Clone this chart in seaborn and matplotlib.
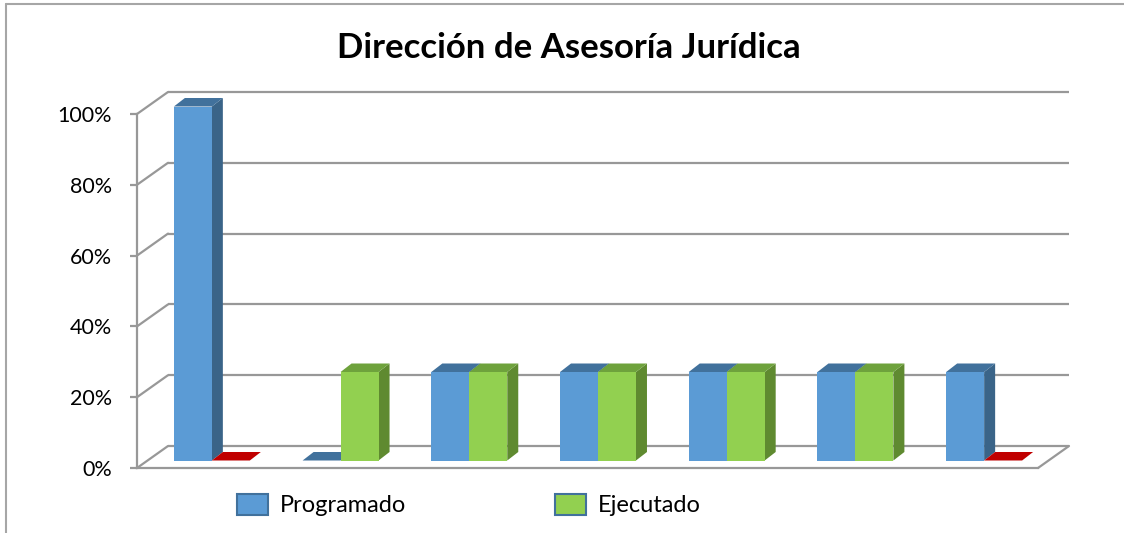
import pandas as pd
import seaborn as sns
import matplotlib.pyplot as plt
from matplotlib.patches import Polygon, Patch
from matplotlib.lines import Line2D
from matplotlib.ticker import PercentFormatter
from matplotlib.colors import to_hex

# datos
grupos = ['1', '2', '3', '4', '5', '6', '7']
programado = [1.00, 0.00, 0.25, 0.25, 0.25, 0.25, 0.25]
ejecutado = [0.00, 0.25, 0.25, 0.25, 0.25, 0.25, 0.00]
series = ['Programado', 'Ejecutado']
marcas_y = [0, 0.2, 0.4, 0.6, 0.8, 1.0]

df = pd.DataFrame({'grupo': grupos * 2,
                   'serie': [series[0]] * len(grupos) + [series[1]] * len(grupos),
                   'valor': programado + ejecutado})

sns.set_style('white')
plt.rcParams['font.family'] = ['Lato', 'DejaVu Sans']
plt.rcParams['text.color'] = 'black'

W, H = 1124, 533
fig = plt.figure(figsize=(W / 100, H / 100), dpi=100)
ax = fig.add_axes([137 / W, (H - 468) / H, 901 / W, 354 / H])

colores = {'Programado': '#5B9BD5', 'Ejecutado': '#92D050'}
lados = {'#5b9bd5': '#3A6488', '#92d050': '#5F8A30'}
tapas = {'#5b9bd5': '#41719C', '#92d050': '#6EA23C'}
rojo = '#C00000'
gris = '#989898'

sns.barplot(data=df, x='grupo', y='valor', hue='serie', hue_order=series,
            palette=colores, width=0.59, gap=0, saturation=1, legend=False,
            linewidth=0, ax=ax)
ax.set_xlim(-0.5, 6.5)
ax.set_ylim(0, 1)

# pixeles -> unidades de datos
bx = 7 / 901
by = 1 / 354
Dx, Dy = 31 * bx, 22 * by          # profundidad del piso
fx, fy = 10.5 * bx, 7.5 * by       # cara frontal de las barras
px, py = 11 * bx, 8.5 * by         # profundidad de cada barra

# paredes y rejilla
for v in marcas_y:
    ax.plot([-0.5 + Dx, 6.5 + Dx], [v + Dy, v + Dy], color=gris, lw=1.6,
            clip_on=False, zorder=1, solid_capstyle='butt')
    ax.plot([-0.5, -0.5 + Dx], [v, v + Dy], color=gris, lw=1.6,
            clip_on=False, zorder=1)
ax.plot([6.5, 6.5 + Dx], [0, Dy], color=gris, lw=1.6, clip_on=False, zorder=1)

barras = sorted(ax.patches, key=lambda p: p.get_x())
for k, p in enumerate(barras):
    c = to_hex(p.get_facecolor())
    x0, w, h = p.get_x() + fx, p.get_width(), p.get_height()
    y0 = fy
    p.set_x(x0)
    p.set_y(y0)
    z = 5 + k * 0.1
    p.set_zorder(z + 0.05)
    p.set_clip_on(False)
    tapa = tapas[c]
    if h == 0 and c == '#92d050':
        tapa = rojo
    if h > 0:
        ax.add_patch(Polygon([(x0 + w, y0), (x0 + w + px, y0 + py),
                              (x0 + w + px, y0 + h + py), (x0 + w, y0 + h)],
                             closed=True, facecolor=lados[c], lw=0,
                             zorder=z, clip_on=False))
    ax.add_patch(Polygon([(x0, y0 + h), (x0 + px, y0 + h + py),
                          (x0 + w + px, y0 + h + py), (x0 + w, y0 + h)],
                         closed=True, facecolor=tapa, lw=0,
                         zorder=z, clip_on=False))

for s in ['top', 'right']:
    ax.spines[s].set_visible(False)
for s in ['left', 'bottom']:
    ax.spines[s].set_color(gris)
    ax.spines[s].set_linewidth(1.6)
ax.set_xticks([])
ax.set_yticks(marcas_y)
ax.yaxis.set_major_formatter(PercentFormatter(1.0, decimals=0))
ax.tick_params(axis='y', left=True, length=5, width=1.6, color=gris,
               pad=13, labelsize=15.5, labelcolor='black')
ax.set_xlabel('')
ax.set_ylabel('')
ax.patch.set_alpha(0)

fig.text(569 / W, 1 - 48 / H, 'Dirección de Asesoría Jurídica',
         ha='center', va='center', fontsize=25, fontweight='bold', color='black')

manejadores = [Patch(facecolor=colores[s], edgecolor='#41719C', lw=1.5) for s in series]
fig.legend(manejadores, series, loc='center left',
           bbox_to_anchor=(237 / W, 1 - 505 / H), ncol=2, frameon=False,
           fontsize=17, handlelength=1.31, handleheight=1.02, handletextpad=0.5,
           columnspacing=6.3, borderpad=0, borderaxespad=0, labelcolor='black')

# marco exterior
fig.add_artist(Line2D([6 / W, 6 / W], [0, 1 - 4 / H], color='#A6A6A6', lw=1.5))
fig.add_artist(Line2D([6 / W, 1], [1 - 4 / H, 1 - 4 / H], color='#A6A6A6', lw=1.5))

fig.savefig('out.png', dpi=100)
